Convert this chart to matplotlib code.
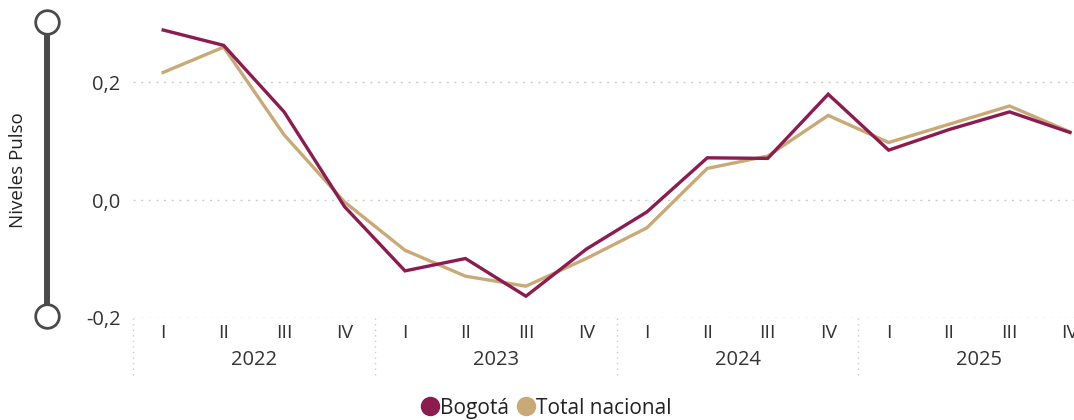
import matplotlib
matplotlib.use("Agg")
import matplotlib.pyplot as plt
import matplotlib.transforms as mtransforms
from matplotlib.lines import Line2D

plt.rcParams['font.family'] = ['Open Sans', 'DejaVu Sans']

# Data
years = ["2022", "2023", "2024", "2025"]
quarters = ["I", "II", "III", "IV"]
bogota = [0.289, 0.263, 0.150, -0.011, -0.120, -0.099, -0.163, -0.083,
          -0.020, 0.072, 0.071, 0.180, 0.085, 0.120, 0.150, 0.115]
nacional = [0.217, 0.260, 0.111, -0.003, -0.085, -0.129, -0.146, -0.099,
            -0.047, 0.054, 0.075, 0.144, 0.098, 0.129, 0.160, 0.116]
yticks = [-0.2, 0.0, 0.2]
ytick_labels = ["-0,2", "0,0", "0,2"]

c_bog = "#8C1B4F"
c_nac = "#C9AA77"
txt = "#333333"

fig = plt.figure(figsize=(10.74, 4.2), dpi=100)
ax = fig.add_axes([0.1238, 0.2429, 0.895, 0.7571])

x = list(range(len(bogota)))
ax.plot(x, bogota, color=c_bog, lw=2.4, solid_joinstyle='miter', zorder=3)
ax.plot(x, nacional, color=c_nac, lw=2.4, solid_joinstyle='miter', zorder=2)

ax.set_xlim(-0.5, 15.4)
ax.set_ylim(-0.2, 0.34)
ax.set_yticks(yticks)
ax.set_yticklabels(ytick_labels, fontsize=14.5, color=txt)
ax.tick_params(axis='y', length=0, pad=9)
ax.set_xticks([])
for s in ax.spines.values():
    s.set_visible(False)
ax.grid(axis='y', color='#cccccc', linestyle=(0, (1.5, 4)), lw=1)

# hierarchical x labels
trans = mtransforms.blended_transform_factory(ax.transData, ax.transAxes)
for i in range(len(bogota)):
    ax.text(i, -0.047, quarters[i % 4], transform=trans, ha='center', va='center',
            fontsize=14, color=txt, clip_on=False)
for k, yr in enumerate(years):
    ax.text(4 * k + 1.5, -0.132, yr, transform=trans, ha='center', va='center',
            fontsize=14.5, color=txt, clip_on=False)
    ax.plot([4 * k - 0.5, 4 * k - 0.5], [0, -0.18], transform=trans, color='#cccccc',
            linestyle=(0, (1, 3)), lw=1, clip_on=False)

# decorative vertical bar
fig.add_artist(Line2D([47 / 1074, 47 / 1074], [1 - 22 / 420, 1 - 316 / 420],
                      transform=fig.transFigure, color='#4a4a4a', lw=4.3))
fig.add_artist(Line2D([47 / 1074, 47 / 1074], [1 - 22 / 420, 1 - 316 / 420],
                      transform=fig.transFigure, linestyle='none', marker='o',
                      markersize=17, markerfacecolor='white',
                      markeredgecolor='#4a4a4a', markeredgewidth=2))
fig.text(18 / 1074, 1 - 170 / 420, "Niveles Pulso", rotation=90, ha='center',
         va='center', fontsize=13.5, color='#222222')

# legend
handles = [Line2D([], [], linestyle='none', marker='o', markersize=13, color=c_bog),
           Line2D([], [], linestyle='none', marker='o', markersize=13, color=c_nac)]
fig.legend(handles, ["Bogotá", "Total nacional"], loc='center',
           bbox_to_anchor=(0.508, 0.028), ncol=2, frameon=False, fontsize=15,
           handletextpad=0.0, columnspacing=0.3, handlelength=1.0,
           labelcolor='#222222')

fig.savefig("out.png", dpi=100)
